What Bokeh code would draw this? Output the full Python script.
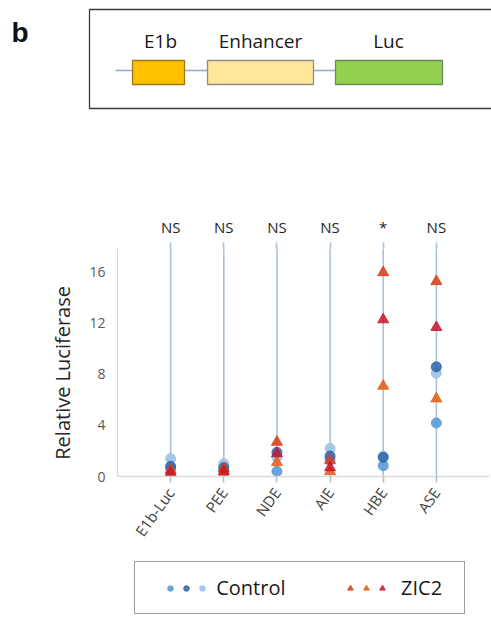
import numpy as np
from bokeh.plotting import figure
from bokeh.models import (Range1d, FixedTicker, Legend, LegendItem,
                          ColumnDataSource, LinearAxis)
from bokeh.layouts import column, row
from bokeh.embed import file_html
from bokeh.resources import INLINE
from bokeh.core.properties import value

# ---------------- data ----------------
categories = ["E1b-Luc", "PEE", "NDE", "AIE", "HBE", "ASE"]
control_1 = [0.6, 0.5, 0.4, 1.3, 0.85, 4.2]
control_2 = [0.8, 0.7, 1.9, 1.6, 1.5, 8.6]
control_3 = [1.4, 1.0, 1.5, 2.2, 1.6, 8.1]
zic2_1 = [0.5, 0.6, 2.7, 1.25, 16.0, 15.3]
zic2_2 = [0.3, 0.4, 1.8, 0.7, 12.3, 11.7]
zic2_3 = [0.2, 0.2, 1.1, 0.4, 7.1, 6.1]
significance = ["NS", "NS", "NS", "NS", "*", "NS"]
y_ticks = [0, 4, 8, 12, 16]
construct_parts = ["E1b", "Enhancer", "Luc"]

FONT = "Open Sans"
W = 491
LINE_BLUE = "#AAC2D8"

# series styles
ctrl_styles = [dict(color="#5B9BD5", alpha=0.9), dict(color="#2F64A8", alpha=0.85),
               dict(color="#9DC3E6", alpha=0.9)]
zic_styles = [dict(color="#DC4320", alpha=0.9), dict(color="#C8162E", alpha=0.85),
              dict(color="#E2641E", alpha=0.9)]

# ---------------- construct diagram ----------------
d = figure(width=W, height=128, x_range=Range1d(0, W), y_range=Range1d(128, 0),
           min_border=0, toolbar_location=None, output_backend="svg")
d.axis.visible = False
d.grid.visible = False
d.outline_line_color = None

d.text(x=[11], y=[32], text=["b"], text_font=value("Liberation Sans"),
       text_font_style="bold", text_font_size="28px", text_color="#111111",
       text_baseline="alphabetic", text_align="left")
d.quad(left=[89], right=[620], top=[9], bottom=[108], fill_color=None,
       line_color="#3a3a3a", line_width=1.3)
d.segment(x0=[115], y0=[70], x1=[335], y1=[70], line_color="#8FAAC8", line_width=1.3)
part_src = ColumnDataSource(dict(
    name=construct_parts,
    left=[132, 207, 335], right=[184, 313, 442],
    fill=["#FFC000", "#FFE699", "#92D050"],
    line=["#9C7A1A", "#8C8C8C", "#6E8C5A"],
    lx=[160, 260, 388],
))
d.quad(left="left", right="right", top=60, bottom=84, fill_color="fill",
       line_color="line", line_width=1.3, source=part_src)
d.text(x="lx", y=40, text="name", source=part_src, text_font=value(FONT),
       text_font_size="19px", text_color="#1a1a1a", text_align="center",
       text_baseline="middle")

# ---------------- chart ----------------
xs = list(range(1, len(categories) + 1))
y_top = 17.88
p = figure(width=W, height=427, x_range=Range1d(0, 7), y_range=Range1d(0, y_top),
           min_border_left=117, min_border_right=2, min_border_top=120,
           min_border_bottom=79, toolbar_location=None, output_backend="svg")
p.grid.visible = False
p.outline_line_color = None

xa = p.below[0]
ya = p.left[0]

p.segment(x0=xs, y0=0, x1=xs, y1=y_top, line_color=LINE_BLUE, line_width=1.6)

for vals, st in zip([control_3, control_1, control_2],
                    [ctrl_styles[2], ctrl_styles[0], ctrl_styles[1]]):
    p.scatter(xs, vals, marker="circle", size=10, fill_color=st["color"],
              line_color=st["color"], alpha=st["alpha"])
for vals, st in zip([zic2_3, zic2_1, zic2_2],
                    [zic_styles[2], zic_styles[0], zic_styles[1]]):
    p.scatter(xs, vals, marker="triangle", size=11, fill_color=st["color"],
              line_color=st["color"], alpha=st["alpha"])

# significance marks as a top axis
top = LinearAxis(ticker=FixedTicker(ticks=xs),
                 major_label_overrides={x: s for x, s in zip(xs, significance)})
top.axis_line_color = None
top.major_tick_out = 6
top.major_tick_in = 0
top.major_tick_line_color = LINE_BLUE
top.major_tick_line_width = 1.6
top.minor_tick_line_color = None
top.major_label_standoff = 6
top.major_label_text_font = FONT
top.major_label_text_font_size = "15px"
top.major_label_text_color = "#1f1f1f"
p.add_layout(top, "above")

xa.ticker = FixedTicker(ticks=xs)
xa.major_label_overrides = {x: c for x, c in zip(xs, categories)}
xa.major_label_orientation = 0.95
xa.axis_line_color = "#D9D9D9"
xa.axis_line_width = 1.5
xa.major_tick_out = 6
xa.major_tick_in = 0
xa.major_tick_line_color = LINE_BLUE
xa.major_tick_line_width = 1.6
xa.minor_tick_line_color = None
xa.major_label_text_font = FONT
xa.major_label_text_font_size = "15px"
xa.major_label_text_color = "#404040"
xa.major_label_standoff = 7

ya.ticker = FixedTicker(ticks=y_ticks)
ya.axis_line_color = "#D9D9D9"
ya.axis_line_width = 1.2
ya.major_tick_out = 0
ya.major_tick_in = 0
ya.major_tick_line_color = None
ya.minor_tick_line_color = None
ya.major_label_text_font = FONT
ya.major_label_text_font_size = "14px"
ya.major_label_text_color = "#595959"
ya.major_label_standoff = 12
ya.axis_label = "Relative Luciferase" + "\u00a0" * 4
ya.axis_label_text_font = FONT
ya.axis_label_text_font_size = "20px"
ya.axis_label_text_font_style = "normal"
ya.axis_label_text_color = "#262626"
ya.axis_label_standoff = 10

# ---------------- legend strip ----------------
lg = figure(width=W, height=62, x_range=Range1d(0, 1), y_range=Range1d(0, 1),
            min_border=0, toolbar_location=None, output_backend="svg")
lg.axis.visible = False
lg.grid.visible = False
lg.outline_line_color = None
none = np.array([np.nan])
spacer = lg.scatter(none, none, marker="circle", size=1, alpha=0)
keys_c = [lg.scatter(none, none, marker="circle", size=10, fill_color=st["color"],
                     line_color=st["color"], alpha=st["alpha"]) for st in ctrl_styles]
keys_z = [lg.scatter(none, none, marker="triangle", size=10, fill_color=st["color"],
                     line_color=st["color"], alpha=st["alpha"])
          for st in [zic_styles[0], zic_styles[2], zic_styles[1]]]

nb = "\u00a0"
legend = Legend(items=[
    LegendItem(label="", renderers=[spacer]),
    LegendItem(label="", renderers=[keys_c[0]]),
    LegendItem(label="", renderers=[keys_c[1]]),
    LegendItem(label=nb + "Control" + nb * 11, renderers=[keys_c[2]]),
    LegendItem(label="", renderers=[keys_z[0]]),
    LegendItem(label="", renderers=[keys_z[1]]),
    LegendItem(label=nb * 2 + "ZIC2" + nb * 2, renderers=[keys_z[2]]),
], orientation="horizontal", location=(134, 3), margin=0, spacing=0,
    label_standoff=2, glyph_width=14, glyph_height=24, padding=12, label_width=0,
    label_text_font=FONT, label_text_font_size="20px", label_text_color="#1a1a1a",
    border_line_color="#3a3a3a", border_line_width=1.3,
    background_fill_color="white", background_fill_alpha=1.0)
lg.add_layout(legend, "center")

layout = column(row(d), row(p), row(lg), spacing=0)
open("out.html", "w").write(file_html(layout, INLINE))
